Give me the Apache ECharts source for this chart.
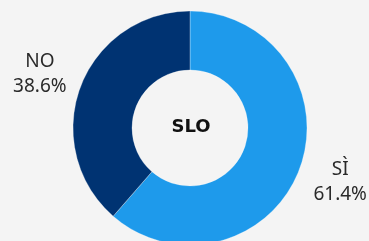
<!DOCTYPE html>
<html><head><meta charset="utf-8">
<script src="https://cdn.jsdelivr.net/npm/echarts@6/dist/echarts.min.js"></script>
<style>html,body{margin:0;padding:0;background:#f4f4f4}#c{width:369px;height:241px}</style>
</head><body><div id="c"></div>
<script>
var categories = ['SÌ', 'NO'];
var values = [61.4, 38.6];
var centerTitle = 'SLO';
var colors = ['#1e9aeb', '#003372'];

var chart = echarts.init(document.getElementById('c'), null, {renderer: 'canvas'});
chart.setOption({
  backgroundColor: '#f4f4f4',
  animation: false,
  graphic: [{
    type: 'text', x: 191, y: 127,
    style: {text: centerTitle, align: 'center', verticalAlign: 'middle',
      fontFamily: 'DejaVu Sans', fontWeight: 'bold', fontSize: 18, fill: '#111'}
  }],
  series: [{
    type: 'pie',
    center: [190, 128],
    radius: [58, 117],
    startAngle: 90,
    clockwise: true,
    data: categories.map(function (c, i) { return {name: c, value: values[i], itemStyle: {color: colors[i]}}; }),
    itemStyle: {borderColor: 'rgba(255,255,255,0.5)', borderWidth: 0.6},
    label: {
      show: true, position: 'outside', overflow: 'none',
      formatter: function (p) { return p.name + '\n' + p.value.toFixed(1) + '%'; },
      fontFamily: 'Noto Sans', fontSize: 19, color: '#2a2a2a', lineHeight: 25
    },
    labelLine: {show: false, length: 38, length2: 0},
    labelLayout: function () { return {align: 'center', verticalAlign: 'middle'}; },
    emphasis: {disabled: true}
  }]
});
</script></body></html>
